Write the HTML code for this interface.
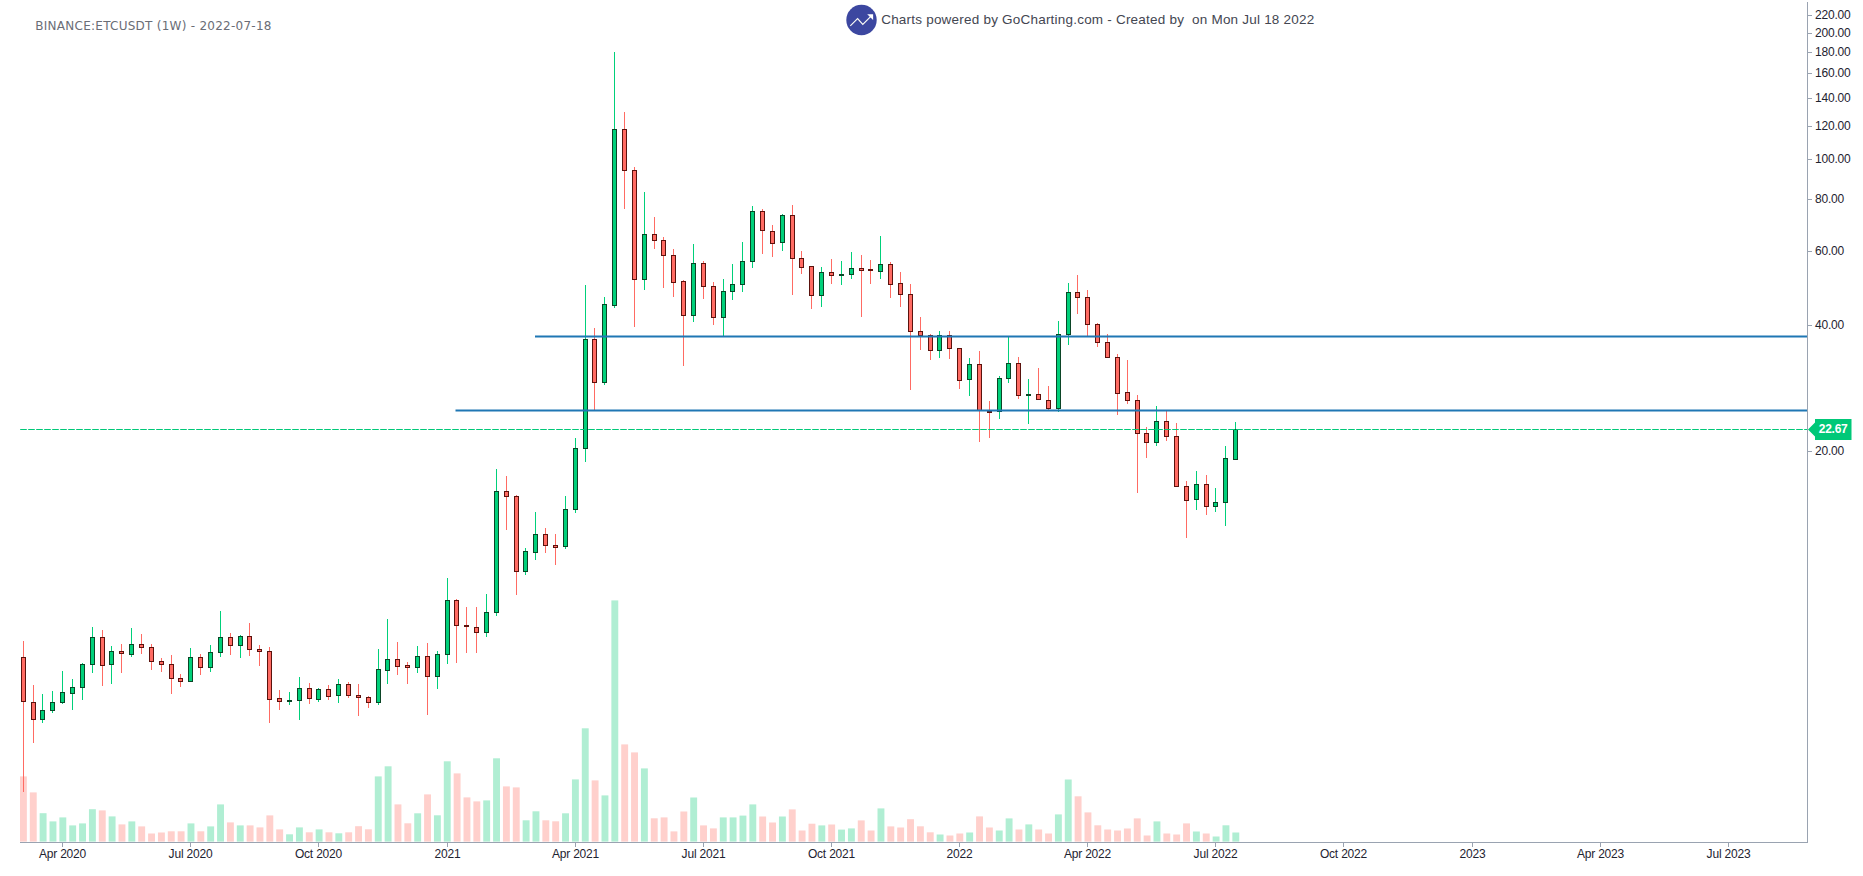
<!DOCTYPE html>
<html lang="en"><head><meta charset="utf-8"><title>BINANCE:ETCUSDT (1W) - 2022-07-18</title>
<style>
html,body{margin:0;padding:0;background:#fff;}
body{width:1863px;height:876px;overflow:hidden;position:relative;font-family:"Liberation Sans",sans-serif;}
#chart{position:absolute;left:0;top:0;width:1863px;height:876px;display:block;}
.t{font-family:"Liberation Sans",sans-serif;font-size:12px;fill:#1e2330;letter-spacing:-0.2px;}
.xl{text-anchor:middle;}
#title{position:absolute;left:35.3px;top:17.8px;font-family:"DejaVu Sans","Liberation Sans",sans-serif;font-size:12px;line-height:16px;color:#6a6d76;white-space:nowrap;letter-spacing:0.26px;}
#brand{position:absolute;left:881.2px;top:10.8px;letter-spacing:0.212px;font-family:"Liberation Sans",sans-serif;font-size:13.5px;line-height:18px;color:#434651;white-space:pre;}
#tag{position:absolute;left:1815.1px;top:419.3px;width:36px;height:21px;font-family:"Liberation Sans",sans-serif;font-weight:bold;font-size:12px;line-height:21px;color:#fff;text-align:center;letter-spacing:-0.25px;}
</style></head><body>
<svg id="chart" width="1863" height="876" viewBox="0 0 1863 876">
<g id="volume">
<rect x="20.00" y="776.4" width="6.85" height="65.2" fill="#ffd0cc"/>
<rect x="29.81" y="792.4" width="6.90" height="49.2" fill="#ffd0cc"/>
<rect x="39.66" y="813.2" width="6.90" height="28.4" fill="#b0eed3"/>
<rect x="49.52" y="821.4" width="6.90" height="20.2" fill="#b0eed3"/>
<rect x="59.38" y="817.4" width="6.90" height="24.2" fill="#b0eed3"/>
<rect x="69.23" y="825.4" width="6.90" height="16.2" fill="#b0eed3"/>
<rect x="79.09" y="823.4" width="6.90" height="18.2" fill="#b0eed3"/>
<rect x="88.95" y="809.2" width="6.90" height="32.4" fill="#b0eed3"/>
<rect x="98.81" y="810.4" width="6.90" height="31.2" fill="#ffd0cc"/>
<rect x="108.66" y="816.4" width="6.90" height="25.2" fill="#b0eed3"/>
<rect x="118.52" y="824.4" width="6.90" height="17.2" fill="#ffd0cc"/>
<rect x="128.38" y="821.4" width="6.90" height="20.2" fill="#b0eed3"/>
<rect x="138.23" y="826.4" width="6.90" height="15.2" fill="#ffd0cc"/>
<rect x="148.09" y="833.5" width="6.90" height="8.1" fill="#ffd0cc"/>
<rect x="157.95" y="832.5" width="6.90" height="9.1" fill="#ffd0cc"/>
<rect x="167.81" y="831.3" width="6.90" height="10.3" fill="#ffd0cc"/>
<rect x="177.66" y="831.3" width="6.90" height="10.3" fill="#ffd0cc"/>
<rect x="187.52" y="823.4" width="6.90" height="18.2" fill="#b0eed3"/>
<rect x="197.38" y="831.3" width="6.90" height="10.3" fill="#ffd0cc"/>
<rect x="207.23" y="826.4" width="6.90" height="15.2" fill="#b0eed3"/>
<rect x="217.09" y="804.4" width="6.90" height="37.2" fill="#b0eed3"/>
<rect x="226.95" y="822.4" width="6.90" height="19.2" fill="#ffd0cc"/>
<rect x="236.80" y="825.4" width="6.90" height="16.2" fill="#b0eed3"/>
<rect x="246.66" y="825.4" width="6.90" height="16.2" fill="#ffd0cc"/>
<rect x="256.52" y="827.4" width="6.90" height="14.2" fill="#ffd0cc"/>
<rect x="266.38" y="815.4" width="6.90" height="26.2" fill="#ffd0cc"/>
<rect x="276.23" y="829.4" width="6.90" height="12.2" fill="#ffd0cc"/>
<rect x="286.09" y="834.3" width="6.90" height="7.3" fill="#b0eed3"/>
<rect x="295.95" y="827.4" width="6.90" height="14.2" fill="#b0eed3"/>
<rect x="305.80" y="832.3" width="6.90" height="9.3" fill="#ffd0cc"/>
<rect x="315.66" y="829.4" width="6.90" height="12.2" fill="#b0eed3"/>
<rect x="325.52" y="832.3" width="6.90" height="9.3" fill="#ffd0cc"/>
<rect x="335.37" y="833.3" width="6.90" height="8.3" fill="#b0eed3"/>
<rect x="345.23" y="832.3" width="6.90" height="9.3" fill="#ffd0cc"/>
<rect x="355.09" y="826.2" width="6.90" height="15.4" fill="#ffd0cc"/>
<rect x="364.94" y="829.3" width="6.90" height="12.3" fill="#ffd0cc"/>
<rect x="374.80" y="776.4" width="6.90" height="65.2" fill="#b0eed3"/>
<rect x="384.66" y="766.3" width="6.90" height="75.3" fill="#b0eed3"/>
<rect x="394.52" y="804.4" width="6.90" height="37.2" fill="#ffd0cc"/>
<rect x="404.37" y="823.3" width="6.90" height="18.3" fill="#ffd0cc"/>
<rect x="414.23" y="813.3" width="6.90" height="28.3" fill="#b0eed3"/>
<rect x="424.09" y="794.4" width="6.90" height="47.2" fill="#ffd0cc"/>
<rect x="433.94" y="815.3" width="6.90" height="26.3" fill="#b0eed3"/>
<rect x="443.80" y="761.3" width="6.90" height="80.3" fill="#b0eed3"/>
<rect x="453.66" y="773.4" width="6.90" height="68.2" fill="#ffd0cc"/>
<rect x="463.51" y="797.4" width="6.90" height="44.2" fill="#ffd0cc"/>
<rect x="473.37" y="801.4" width="6.90" height="40.2" fill="#ffd0cc"/>
<rect x="483.23" y="800.4" width="6.90" height="41.2" fill="#b0eed3"/>
<rect x="493.09" y="758.3" width="6.90" height="83.3" fill="#b0eed3"/>
<rect x="502.94" y="786.4" width="6.90" height="55.2" fill="#ffd0cc"/>
<rect x="512.80" y="787.4" width="6.90" height="54.2" fill="#ffd0cc"/>
<rect x="522.66" y="820.3" width="6.90" height="21.3" fill="#b0eed3"/>
<rect x="532.51" y="811.3" width="6.90" height="30.3" fill="#b0eed3"/>
<rect x="542.37" y="820.3" width="6.90" height="21.3" fill="#ffd0cc"/>
<rect x="552.23" y="821.3" width="6.90" height="20.3" fill="#ffd0cc"/>
<rect x="562.08" y="813.3" width="6.90" height="28.3" fill="#b0eed3"/>
<rect x="571.94" y="779.4" width="6.90" height="62.2" fill="#b0eed3"/>
<rect x="581.80" y="728.3" width="6.90" height="113.3" fill="#b0eed3"/>
<rect x="591.66" y="780.4" width="6.90" height="61.2" fill="#ffd0cc"/>
<rect x="601.51" y="795.4" width="6.90" height="46.2" fill="#b0eed3"/>
<rect x="611.37" y="600.4" width="6.90" height="241.2" fill="#b0eed3"/>
<rect x="621.23" y="744.4" width="6.90" height="97.2" fill="#ffd0cc"/>
<rect x="631.08" y="752.4" width="6.90" height="89.2" fill="#ffd0cc"/>
<rect x="640.94" y="768.4" width="6.90" height="73.2" fill="#b0eed3"/>
<rect x="650.80" y="818.3" width="6.90" height="23.3" fill="#ffd0cc"/>
<rect x="660.65" y="817.4" width="6.90" height="24.2" fill="#ffd0cc"/>
<rect x="670.51" y="831.4" width="6.90" height="10.2" fill="#ffd0cc"/>
<rect x="680.37" y="811.5" width="6.90" height="30.1" fill="#ffd0cc"/>
<rect x="690.23" y="797.5" width="6.90" height="44.1" fill="#b0eed3"/>
<rect x="700.08" y="825.4" width="6.90" height="16.2" fill="#ffd0cc"/>
<rect x="709.94" y="828.4" width="6.90" height="13.2" fill="#ffd0cc"/>
<rect x="719.80" y="817.4" width="6.90" height="24.2" fill="#b0eed3"/>
<rect x="729.65" y="817.4" width="6.90" height="24.2" fill="#b0eed3"/>
<rect x="739.51" y="815.6" width="6.90" height="26.0" fill="#b0eed3"/>
<rect x="749.37" y="804.4" width="6.90" height="37.2" fill="#b0eed3"/>
<rect x="759.22" y="816.5" width="6.90" height="25.1" fill="#ffd0cc"/>
<rect x="769.08" y="822.5" width="6.90" height="19.1" fill="#ffd0cc"/>
<rect x="778.94" y="816.5" width="6.90" height="25.1" fill="#b0eed3"/>
<rect x="788.80" y="809.4" width="6.90" height="32.2" fill="#ffd0cc"/>
<rect x="798.65" y="830.5" width="6.90" height="11.1" fill="#ffd0cc"/>
<rect x="808.51" y="823.7" width="6.90" height="17.9" fill="#ffd0cc"/>
<rect x="818.37" y="825.4" width="6.90" height="16.2" fill="#b0eed3"/>
<rect x="828.22" y="824.5" width="6.90" height="17.1" fill="#ffd0cc"/>
<rect x="838.08" y="829.6" width="6.90" height="12.0" fill="#b0eed3"/>
<rect x="847.94" y="828.4" width="6.90" height="13.2" fill="#b0eed3"/>
<rect x="857.79" y="820.4" width="6.90" height="21.2" fill="#ffd0cc"/>
<rect x="867.65" y="830.5" width="6.90" height="11.1" fill="#ffd0cc"/>
<rect x="877.51" y="808.4" width="6.90" height="33.2" fill="#b0eed3"/>
<rect x="887.37" y="826.4" width="6.90" height="15.2" fill="#ffd0cc"/>
<rect x="897.22" y="827.5" width="6.90" height="14.1" fill="#ffd0cc"/>
<rect x="907.08" y="819.2" width="6.90" height="22.4" fill="#ffd0cc"/>
<rect x="916.94" y="826.3" width="6.90" height="15.3" fill="#ffd0cc"/>
<rect x="926.79" y="832.3" width="6.90" height="9.3" fill="#ffd0cc"/>
<rect x="936.65" y="834.5" width="6.90" height="7.1" fill="#b0eed3"/>
<rect x="946.51" y="835.5" width="6.90" height="6.1" fill="#ffd0cc"/>
<rect x="956.36" y="833.5" width="6.90" height="8.1" fill="#ffd0cc"/>
<rect x="966.22" y="832.5" width="6.90" height="9.1" fill="#b0eed3"/>
<rect x="976.08" y="816.4" width="6.90" height="25.2" fill="#ffd0cc"/>
<rect x="985.94" y="827.5" width="6.90" height="14.1" fill="#ffd0cc"/>
<rect x="995.79" y="830.5" width="6.90" height="11.1" fill="#b0eed3"/>
<rect x="1005.65" y="818.4" width="6.90" height="23.2" fill="#b0eed3"/>
<rect x="1015.51" y="829.5" width="6.90" height="12.1" fill="#ffd0cc"/>
<rect x="1025.36" y="824.4" width="6.90" height="17.2" fill="#b0eed3"/>
<rect x="1035.22" y="829.5" width="6.90" height="12.1" fill="#ffd0cc"/>
<rect x="1045.08" y="833.5" width="6.90" height="8.1" fill="#ffd0cc"/>
<rect x="1054.93" y="814.4" width="6.90" height="27.2" fill="#b0eed3"/>
<rect x="1064.79" y="779.5" width="6.90" height="62.1" fill="#b0eed3"/>
<rect x="1074.65" y="796.3" width="6.90" height="45.3" fill="#ffd0cc"/>
<rect x="1084.51" y="812.4" width="6.90" height="29.2" fill="#ffd0cc"/>
<rect x="1094.36" y="825.3" width="6.90" height="16.3" fill="#ffd0cc"/>
<rect x="1104.22" y="829.5" width="6.90" height="12.1" fill="#ffd0cc"/>
<rect x="1114.08" y="830.5" width="6.90" height="11.1" fill="#ffd0cc"/>
<rect x="1123.93" y="828.5" width="6.90" height="13.1" fill="#ffd0cc"/>
<rect x="1133.79" y="818.4" width="6.90" height="23.2" fill="#ffd0cc"/>
<rect x="1143.65" y="835.5" width="6.90" height="6.1" fill="#ffd0cc"/>
<rect x="1153.50" y="821.4" width="6.90" height="20.2" fill="#b0eed3"/>
<rect x="1163.36" y="833.5" width="6.90" height="8.1" fill="#ffd0cc"/>
<rect x="1173.22" y="834.5" width="6.90" height="7.1" fill="#ffd0cc"/>
<rect x="1183.08" y="823.4" width="6.90" height="18.2" fill="#ffd0cc"/>
<rect x="1192.93" y="831.5" width="6.90" height="10.1" fill="#b0eed3"/>
<rect x="1202.79" y="833.5" width="6.90" height="8.1" fill="#ffd0cc"/>
<rect x="1212.65" y="836.5" width="6.90" height="5.1" fill="#b0eed3"/>
<rect x="1222.50" y="825.3" width="6.90" height="16.3" fill="#b0eed3"/>
<rect x="1232.36" y="832.5" width="6.90" height="9.1" fill="#b0eed3"/>
</g>
<g id="candles" shape-rendering="crispEdges">
<rect x="23" y="641" width="1" height="16" fill="#ff6b63"/>
<rect x="23" y="702" width="1" height="90" fill="#ff6b63"/>
<rect x="21" y="657" width="5" height="45" fill="#5a120d"/>
<rect x="22" y="658" width="3" height="43" fill="#ff6b63"/>
<rect x="33" y="685" width="1" height="17" fill="#ff6b63"/>
<rect x="33" y="720" width="1" height="23" fill="#ff6b63"/>
<rect x="31" y="702" width="5" height="18" fill="#5a120d"/>
<rect x="32" y="703" width="3" height="16" fill="#ff6b63"/>
<rect x="42" y="694" width="1" height="16" fill="#00d07a"/>
<rect x="42" y="720" width="1" height="3" fill="#00d07a"/>
<rect x="40" y="710" width="5" height="10" fill="#0b4526"/>
<rect x="41" y="711" width="3" height="8" fill="#00d07a"/>
<rect x="52" y="691" width="1" height="11" fill="#00d07a"/>
<rect x="52" y="711" width="1" height="2" fill="#00d07a"/>
<rect x="50" y="702" width="5" height="9" fill="#0b4526"/>
<rect x="51" y="703" width="3" height="7" fill="#00d07a"/>
<rect x="62" y="671" width="1" height="21" fill="#00d07a"/>
<rect x="62" y="703" width="1" height="1" fill="#00d07a"/>
<rect x="60" y="692" width="5" height="11" fill="#0b4526"/>
<rect x="61" y="693" width="3" height="9" fill="#00d07a"/>
<rect x="72" y="679" width="1" height="8" fill="#00d07a"/>
<rect x="72" y="694" width="1" height="16" fill="#00d07a"/>
<rect x="70" y="687" width="5" height="7" fill="#0b4526"/>
<rect x="71" y="688" width="3" height="5" fill="#00d07a"/>
<rect x="82" y="663" width="1" height="1" fill="#00d07a"/>
<rect x="82" y="688" width="1" height="12" fill="#00d07a"/>
<rect x="80" y="664" width="5" height="24" fill="#0b4526"/>
<rect x="81" y="665" width="3" height="22" fill="#00d07a"/>
<rect x="92" y="627" width="1" height="10" fill="#00d07a"/>
<rect x="92" y="665" width="1" height="8" fill="#00d07a"/>
<rect x="90" y="637" width="5" height="28" fill="#0b4526"/>
<rect x="91" y="638" width="3" height="26" fill="#00d07a"/>
<rect x="102" y="630" width="1" height="7" fill="#ff6b63"/>
<rect x="102" y="666" width="1" height="20" fill="#ff6b63"/>
<rect x="100" y="637" width="5" height="29" fill="#5a120d"/>
<rect x="101" y="638" width="3" height="27" fill="#ff6b63"/>
<rect x="111" y="646" width="1" height="5" fill="#00d07a"/>
<rect x="111" y="665" width="1" height="19" fill="#00d07a"/>
<rect x="109" y="651" width="5" height="14" fill="#0b4526"/>
<rect x="110" y="652" width="3" height="12" fill="#00d07a"/>
<rect x="121" y="644" width="1" height="7" fill="#ff6b63"/>
<rect x="121" y="654" width="1" height="19" fill="#ff6b63"/>
<rect x="119" y="651" width="5" height="3" fill="#5a120d"/>
<rect x="120" y="652" width="3" height="1" fill="#ff6b63"/>
<rect x="131" y="628" width="1" height="16" fill="#00d07a"/>
<rect x="131" y="655" width="1" height="2" fill="#00d07a"/>
<rect x="129" y="644" width="5" height="11" fill="#0b4526"/>
<rect x="130" y="645" width="3" height="9" fill="#00d07a"/>
<rect x="141" y="634" width="1" height="10" fill="#ff6b63"/>
<rect x="141" y="648" width="1" height="6" fill="#ff6b63"/>
<rect x="139" y="644" width="5" height="4" fill="#5a120d"/>
<rect x="140" y="645" width="3" height="2" fill="#ff6b63"/>
<rect x="151" y="644" width="1" height="3" fill="#ff6b63"/>
<rect x="151" y="662" width="1" height="8" fill="#ff6b63"/>
<rect x="149" y="647" width="5" height="15" fill="#5a120d"/>
<rect x="150" y="648" width="3" height="13" fill="#ff6b63"/>
<rect x="161" y="658" width="1" height="3" fill="#ff6b63"/>
<rect x="161" y="665" width="1" height="7" fill="#ff6b63"/>
<rect x="159" y="661" width="5" height="4" fill="#5a120d"/>
<rect x="160" y="662" width="3" height="2" fill="#ff6b63"/>
<rect x="171" y="655" width="1" height="9" fill="#ff6b63"/>
<rect x="171" y="679" width="1" height="15" fill="#ff6b63"/>
<rect x="169" y="664" width="5" height="15" fill="#5a120d"/>
<rect x="170" y="665" width="3" height="13" fill="#ff6b63"/>
<rect x="180" y="674" width="1" height="4" fill="#ff6b63"/>
<rect x="180" y="682" width="1" height="5" fill="#ff6b63"/>
<rect x="178" y="678" width="5" height="4" fill="#5a120d"/>
<rect x="179" y="679" width="3" height="2" fill="#ff6b63"/>
<rect x="190" y="648" width="1" height="9" fill="#00d07a"/>
<rect x="188" y="657" width="5" height="25" fill="#0b4526"/>
<rect x="189" y="658" width="3" height="23" fill="#00d07a"/>
<rect x="200" y="654" width="1" height="3" fill="#ff6b63"/>
<rect x="200" y="668" width="1" height="7" fill="#ff6b63"/>
<rect x="198" y="657" width="5" height="11" fill="#5a120d"/>
<rect x="199" y="658" width="3" height="9" fill="#ff6b63"/>
<rect x="210" y="645" width="1" height="7" fill="#00d07a"/>
<rect x="210" y="668" width="1" height="4" fill="#00d07a"/>
<rect x="208" y="652" width="5" height="16" fill="#0b4526"/>
<rect x="209" y="653" width="3" height="14" fill="#00d07a"/>
<rect x="220" y="611" width="1" height="26" fill="#00d07a"/>
<rect x="220" y="653" width="1" height="4" fill="#00d07a"/>
<rect x="218" y="637" width="5" height="16" fill="#0b4526"/>
<rect x="219" y="638" width="3" height="14" fill="#00d07a"/>
<rect x="230" y="633" width="1" height="4" fill="#ff6b63"/>
<rect x="230" y="646" width="1" height="9" fill="#ff6b63"/>
<rect x="228" y="637" width="5" height="9" fill="#5a120d"/>
<rect x="229" y="638" width="3" height="7" fill="#ff6b63"/>
<rect x="240" y="635" width="1" height="1" fill="#00d07a"/>
<rect x="240" y="646" width="1" height="12" fill="#00d07a"/>
<rect x="238" y="636" width="5" height="10" fill="#0b4526"/>
<rect x="239" y="637" width="3" height="8" fill="#00d07a"/>
<rect x="249" y="623" width="1" height="13" fill="#ff6b63"/>
<rect x="249" y="650" width="1" height="6" fill="#ff6b63"/>
<rect x="247" y="636" width="5" height="14" fill="#5a120d"/>
<rect x="248" y="637" width="3" height="12" fill="#ff6b63"/>
<rect x="259" y="645" width="1" height="4" fill="#ff6b63"/>
<rect x="259" y="652" width="1" height="14" fill="#ff6b63"/>
<rect x="257" y="649" width="5" height="3" fill="#5a120d"/>
<rect x="258" y="650" width="3" height="1" fill="#ff6b63"/>
<rect x="269" y="647" width="1" height="4" fill="#ff6b63"/>
<rect x="269" y="700" width="1" height="23" fill="#ff6b63"/>
<rect x="267" y="651" width="5" height="49" fill="#5a120d"/>
<rect x="268" y="652" width="3" height="47" fill="#ff6b63"/>
<rect x="279" y="690" width="1" height="8" fill="#ff6b63"/>
<rect x="279" y="702" width="1" height="8" fill="#ff6b63"/>
<rect x="277" y="698" width="5" height="4" fill="#5a120d"/>
<rect x="278" y="699" width="3" height="2" fill="#ff6b63"/>
<rect x="289" y="692" width="1" height="8" fill="#00d07a"/>
<rect x="289" y="702" width="1" height="3" fill="#00d07a"/>
<rect x="287" y="700" width="5" height="2" fill="#0b4526"/>
<rect x="299" y="677" width="1" height="11" fill="#00d07a"/>
<rect x="299" y="701" width="1" height="19" fill="#00d07a"/>
<rect x="297" y="688" width="5" height="13" fill="#0b4526"/>
<rect x="298" y="689" width="3" height="11" fill="#00d07a"/>
<rect x="309" y="683" width="1" height="5" fill="#ff6b63"/>
<rect x="309" y="699" width="1" height="5" fill="#ff6b63"/>
<rect x="307" y="688" width="5" height="11" fill="#5a120d"/>
<rect x="308" y="689" width="3" height="9" fill="#ff6b63"/>
<rect x="318" y="688" width="1" height="1" fill="#00d07a"/>
<rect x="318" y="700" width="1" height="2" fill="#00d07a"/>
<rect x="316" y="689" width="5" height="11" fill="#0b4526"/>
<rect x="317" y="690" width="3" height="9" fill="#00d07a"/>
<rect x="328" y="685" width="1" height="4" fill="#ff6b63"/>
<rect x="328" y="697" width="1" height="3" fill="#ff6b63"/>
<rect x="326" y="689" width="5" height="8" fill="#5a120d"/>
<rect x="327" y="690" width="3" height="6" fill="#ff6b63"/>
<rect x="338" y="679" width="1" height="5" fill="#00d07a"/>
<rect x="338" y="696" width="1" height="7" fill="#00d07a"/>
<rect x="336" y="684" width="5" height="12" fill="#0b4526"/>
<rect x="337" y="685" width="3" height="10" fill="#00d07a"/>
<rect x="348" y="682" width="1" height="2" fill="#ff6b63"/>
<rect x="348" y="696" width="1" height="2" fill="#ff6b63"/>
<rect x="346" y="684" width="5" height="12" fill="#5a120d"/>
<rect x="347" y="685" width="3" height="10" fill="#ff6b63"/>
<rect x="358" y="684" width="1" height="11" fill="#ff6b63"/>
<rect x="358" y="698" width="1" height="18" fill="#ff6b63"/>
<rect x="356" y="695" width="5" height="3" fill="#5a120d"/>
<rect x="357" y="696" width="3" height="1" fill="#ff6b63"/>
<rect x="368" y="696" width="1" height="1" fill="#ff6b63"/>
<rect x="368" y="703" width="1" height="5" fill="#ff6b63"/>
<rect x="366" y="697" width="5" height="6" fill="#5a120d"/>
<rect x="367" y="698" width="3" height="4" fill="#ff6b63"/>
<rect x="378" y="649" width="1" height="20" fill="#00d07a"/>
<rect x="378" y="703" width="1" height="2" fill="#00d07a"/>
<rect x="376" y="669" width="5" height="34" fill="#0b4526"/>
<rect x="377" y="670" width="3" height="32" fill="#00d07a"/>
<rect x="387" y="619" width="1" height="40" fill="#00d07a"/>
<rect x="387" y="671" width="1" height="13" fill="#00d07a"/>
<rect x="385" y="659" width="5" height="12" fill="#0b4526"/>
<rect x="386" y="660" width="3" height="10" fill="#00d07a"/>
<rect x="397" y="642" width="1" height="17" fill="#ff6b63"/>
<rect x="397" y="667" width="1" height="8" fill="#ff6b63"/>
<rect x="395" y="659" width="5" height="8" fill="#5a120d"/>
<rect x="396" y="660" width="3" height="6" fill="#ff6b63"/>
<rect x="407" y="662" width="1" height="3" fill="#ff6b63"/>
<rect x="407" y="668" width="1" height="16" fill="#ff6b63"/>
<rect x="405" y="665" width="5" height="3" fill="#5a120d"/>
<rect x="406" y="666" width="3" height="1" fill="#ff6b63"/>
<rect x="417" y="646" width="1" height="10" fill="#00d07a"/>
<rect x="417" y="668" width="1" height="5" fill="#00d07a"/>
<rect x="415" y="656" width="5" height="12" fill="#0b4526"/>
<rect x="416" y="657" width="3" height="10" fill="#00d07a"/>
<rect x="427" y="643" width="1" height="13" fill="#ff6b63"/>
<rect x="427" y="677" width="1" height="38" fill="#ff6b63"/>
<rect x="425" y="656" width="5" height="21" fill="#5a120d"/>
<rect x="426" y="657" width="3" height="19" fill="#ff6b63"/>
<rect x="437" y="651" width="1" height="3" fill="#00d07a"/>
<rect x="437" y="677" width="1" height="12" fill="#00d07a"/>
<rect x="435" y="654" width="5" height="23" fill="#0b4526"/>
<rect x="436" y="655" width="3" height="21" fill="#00d07a"/>
<rect x="447" y="578" width="1" height="22" fill="#00d07a"/>
<rect x="447" y="655" width="1" height="9" fill="#00d07a"/>
<rect x="445" y="600" width="5" height="55" fill="#0b4526"/>
<rect x="446" y="601" width="3" height="53" fill="#00d07a"/>
<rect x="456" y="599" width="1" height="1" fill="#ff6b63"/>
<rect x="456" y="626" width="1" height="37" fill="#ff6b63"/>
<rect x="454" y="600" width="5" height="26" fill="#5a120d"/>
<rect x="455" y="601" width="3" height="24" fill="#ff6b63"/>
<rect x="466" y="607" width="1" height="18" fill="#ff6b63"/>
<rect x="466" y="627" width="1" height="26" fill="#ff6b63"/>
<rect x="464" y="625" width="5" height="2" fill="#5a120d"/>
<rect x="476" y="607" width="1" height="20" fill="#ff6b63"/>
<rect x="476" y="633" width="1" height="20" fill="#ff6b63"/>
<rect x="474" y="627" width="5" height="6" fill="#5a120d"/>
<rect x="475" y="628" width="3" height="4" fill="#ff6b63"/>
<rect x="486" y="594" width="1" height="18" fill="#00d07a"/>
<rect x="486" y="633" width="1" height="4" fill="#00d07a"/>
<rect x="484" y="612" width="5" height="21" fill="#0b4526"/>
<rect x="485" y="613" width="3" height="19" fill="#00d07a"/>
<rect x="496" y="469" width="1" height="22" fill="#00d07a"/>
<rect x="496" y="613" width="1" height="3" fill="#00d07a"/>
<rect x="494" y="491" width="5" height="122" fill="#0b4526"/>
<rect x="495" y="492" width="3" height="120" fill="#00d07a"/>
<rect x="506" y="476" width="1" height="15" fill="#ff6b63"/>
<rect x="506" y="497" width="1" height="33" fill="#ff6b63"/>
<rect x="504" y="491" width="5" height="6" fill="#5a120d"/>
<rect x="505" y="492" width="3" height="4" fill="#ff6b63"/>
<rect x="516" y="495" width="1" height="1" fill="#ff6b63"/>
<rect x="516" y="572" width="1" height="23" fill="#ff6b63"/>
<rect x="514" y="496" width="5" height="76" fill="#5a120d"/>
<rect x="515" y="497" width="3" height="74" fill="#ff6b63"/>
<rect x="525" y="548" width="1" height="3" fill="#00d07a"/>
<rect x="525" y="572" width="1" height="3" fill="#00d07a"/>
<rect x="523" y="551" width="5" height="21" fill="#0b4526"/>
<rect x="524" y="552" width="3" height="19" fill="#00d07a"/>
<rect x="535" y="512" width="1" height="22" fill="#00d07a"/>
<rect x="535" y="553" width="1" height="7" fill="#00d07a"/>
<rect x="533" y="534" width="5" height="19" fill="#0b4526"/>
<rect x="534" y="535" width="3" height="17" fill="#00d07a"/>
<rect x="545" y="528" width="1" height="6" fill="#ff6b63"/>
<rect x="545" y="546" width="1" height="7" fill="#ff6b63"/>
<rect x="543" y="534" width="5" height="12" fill="#5a120d"/>
<rect x="544" y="535" width="3" height="10" fill="#ff6b63"/>
<rect x="555" y="534" width="1" height="11" fill="#ff6b63"/>
<rect x="555" y="548" width="1" height="17" fill="#ff6b63"/>
<rect x="553" y="545" width="5" height="3" fill="#5a120d"/>
<rect x="554" y="546" width="3" height="1" fill="#ff6b63"/>
<rect x="565" y="496" width="1" height="13" fill="#00d07a"/>
<rect x="565" y="547" width="1" height="2" fill="#00d07a"/>
<rect x="563" y="509" width="5" height="38" fill="#0b4526"/>
<rect x="564" y="510" width="3" height="36" fill="#00d07a"/>
<rect x="575" y="438" width="1" height="10" fill="#00d07a"/>
<rect x="575" y="510" width="1" height="3" fill="#00d07a"/>
<rect x="573" y="448" width="5" height="62" fill="#0b4526"/>
<rect x="574" y="449" width="3" height="60" fill="#00d07a"/>
<rect x="585" y="285" width="1" height="54" fill="#00d07a"/>
<rect x="585" y="449" width="1" height="13" fill="#00d07a"/>
<rect x="583" y="339" width="5" height="110" fill="#0b4526"/>
<rect x="584" y="340" width="3" height="108" fill="#00d07a"/>
<rect x="594" y="328" width="1" height="11" fill="#ff6b63"/>
<rect x="594" y="383" width="1" height="27" fill="#ff6b63"/>
<rect x="592" y="339" width="5" height="44" fill="#5a120d"/>
<rect x="593" y="340" width="3" height="42" fill="#ff6b63"/>
<rect x="604" y="297" width="1" height="7" fill="#00d07a"/>
<rect x="604" y="383" width="1" height="2" fill="#00d07a"/>
<rect x="602" y="304" width="5" height="79" fill="#0b4526"/>
<rect x="603" y="305" width="3" height="77" fill="#00d07a"/>
<rect x="614" y="52" width="1" height="77" fill="#00d07a"/>
<rect x="614" y="306" width="1" height="2" fill="#00d07a"/>
<rect x="612" y="129" width="5" height="177" fill="#0b4526"/>
<rect x="613" y="130" width="3" height="175" fill="#00d07a"/>
<rect x="624" y="112" width="1" height="17" fill="#ff6b63"/>
<rect x="624" y="171" width="1" height="38" fill="#ff6b63"/>
<rect x="622" y="129" width="5" height="42" fill="#5a120d"/>
<rect x="623" y="130" width="3" height="40" fill="#ff6b63"/>
<rect x="634" y="167" width="1" height="3" fill="#ff6b63"/>
<rect x="634" y="280" width="1" height="47" fill="#ff6b63"/>
<rect x="632" y="170" width="5" height="110" fill="#5a120d"/>
<rect x="633" y="171" width="3" height="108" fill="#ff6b63"/>
<rect x="644" y="192" width="1" height="42" fill="#00d07a"/>
<rect x="644" y="280" width="1" height="10" fill="#00d07a"/>
<rect x="642" y="234" width="5" height="46" fill="#0b4526"/>
<rect x="643" y="235" width="3" height="44" fill="#00d07a"/>
<rect x="654" y="217" width="1" height="17" fill="#ff6b63"/>
<rect x="654" y="241" width="1" height="8" fill="#ff6b63"/>
<rect x="652" y="234" width="5" height="7" fill="#5a120d"/>
<rect x="653" y="235" width="3" height="5" fill="#ff6b63"/>
<rect x="663" y="237" width="1" height="3" fill="#ff6b63"/>
<rect x="663" y="256" width="1" height="32" fill="#ff6b63"/>
<rect x="661" y="240" width="5" height="16" fill="#5a120d"/>
<rect x="662" y="241" width="3" height="14" fill="#ff6b63"/>
<rect x="673" y="249" width="1" height="6" fill="#ff6b63"/>
<rect x="673" y="283" width="1" height="14" fill="#ff6b63"/>
<rect x="671" y="255" width="5" height="28" fill="#5a120d"/>
<rect x="672" y="256" width="3" height="26" fill="#ff6b63"/>
<rect x="683" y="280" width="1" height="1" fill="#ff6b63"/>
<rect x="683" y="316" width="1" height="50" fill="#ff6b63"/>
<rect x="681" y="281" width="5" height="35" fill="#5a120d"/>
<rect x="682" y="282" width="3" height="33" fill="#ff6b63"/>
<rect x="693" y="244" width="1" height="19" fill="#00d07a"/>
<rect x="693" y="316" width="1" height="6" fill="#00d07a"/>
<rect x="691" y="263" width="5" height="53" fill="#0b4526"/>
<rect x="692" y="264" width="3" height="51" fill="#00d07a"/>
<rect x="703" y="261" width="1" height="2" fill="#ff6b63"/>
<rect x="703" y="287" width="1" height="12" fill="#ff6b63"/>
<rect x="701" y="263" width="5" height="24" fill="#5a120d"/>
<rect x="702" y="264" width="3" height="22" fill="#ff6b63"/>
<rect x="713" y="282" width="1" height="4" fill="#ff6b63"/>
<rect x="713" y="318" width="1" height="7" fill="#ff6b63"/>
<rect x="711" y="286" width="5" height="32" fill="#5a120d"/>
<rect x="712" y="287" width="3" height="30" fill="#ff6b63"/>
<rect x="723" y="279" width="1" height="12" fill="#00d07a"/>
<rect x="723" y="318" width="1" height="18" fill="#00d07a"/>
<rect x="721" y="291" width="5" height="27" fill="#0b4526"/>
<rect x="722" y="292" width="3" height="25" fill="#00d07a"/>
<rect x="732" y="264" width="1" height="20" fill="#00d07a"/>
<rect x="732" y="292" width="1" height="8" fill="#00d07a"/>
<rect x="730" y="284" width="5" height="8" fill="#0b4526"/>
<rect x="731" y="285" width="3" height="6" fill="#00d07a"/>
<rect x="742" y="242" width="1" height="19" fill="#00d07a"/>
<rect x="742" y="285" width="1" height="7" fill="#00d07a"/>
<rect x="740" y="261" width="5" height="24" fill="#0b4526"/>
<rect x="741" y="262" width="3" height="22" fill="#00d07a"/>
<rect x="752" y="206" width="1" height="5" fill="#00d07a"/>
<rect x="752" y="262" width="1" height="6" fill="#00d07a"/>
<rect x="750" y="211" width="5" height="51" fill="#0b4526"/>
<rect x="751" y="212" width="3" height="49" fill="#00d07a"/>
<rect x="762" y="209" width="1" height="2" fill="#ff6b63"/>
<rect x="762" y="231" width="1" height="23" fill="#ff6b63"/>
<rect x="760" y="211" width="5" height="20" fill="#5a120d"/>
<rect x="761" y="212" width="3" height="18" fill="#ff6b63"/>
<rect x="772" y="225" width="1" height="6" fill="#ff6b63"/>
<rect x="772" y="244" width="1" height="13" fill="#ff6b63"/>
<rect x="770" y="231" width="5" height="13" fill="#5a120d"/>
<rect x="771" y="232" width="3" height="11" fill="#ff6b63"/>
<rect x="782" y="214" width="1" height="1" fill="#00d07a"/>
<rect x="782" y="243" width="1" height="8" fill="#00d07a"/>
<rect x="780" y="215" width="5" height="28" fill="#0b4526"/>
<rect x="781" y="216" width="3" height="26" fill="#00d07a"/>
<rect x="792" y="205" width="1" height="10" fill="#ff6b63"/>
<rect x="792" y="259" width="1" height="36" fill="#ff6b63"/>
<rect x="790" y="215" width="5" height="44" fill="#5a120d"/>
<rect x="791" y="216" width="3" height="42" fill="#ff6b63"/>
<rect x="801" y="251" width="1" height="7" fill="#ff6b63"/>
<rect x="801" y="268" width="1" height="6" fill="#ff6b63"/>
<rect x="799" y="258" width="5" height="10" fill="#5a120d"/>
<rect x="800" y="259" width="3" height="8" fill="#ff6b63"/>
<rect x="811" y="296" width="1" height="13" fill="#ff6b63"/>
<rect x="809" y="266" width="5" height="30" fill="#5a120d"/>
<rect x="810" y="267" width="3" height="28" fill="#ff6b63"/>
<rect x="821" y="267" width="1" height="5" fill="#00d07a"/>
<rect x="821" y="296" width="1" height="11" fill="#00d07a"/>
<rect x="819" y="272" width="5" height="24" fill="#0b4526"/>
<rect x="820" y="273" width="3" height="22" fill="#00d07a"/>
<rect x="831" y="259" width="1" height="13" fill="#ff6b63"/>
<rect x="831" y="276" width="1" height="8" fill="#ff6b63"/>
<rect x="829" y="272" width="5" height="4" fill="#5a120d"/>
<rect x="830" y="273" width="3" height="2" fill="#ff6b63"/>
<rect x="841" y="261" width="1" height="13" fill="#00d07a"/>
<rect x="841" y="276" width="1" height="9" fill="#00d07a"/>
<rect x="839" y="274" width="5" height="2" fill="#0b4526"/>
<rect x="851" y="252" width="1" height="16" fill="#00d07a"/>
<rect x="851" y="275" width="1" height="4" fill="#00d07a"/>
<rect x="849" y="268" width="5" height="7" fill="#0b4526"/>
<rect x="850" y="269" width="3" height="5" fill="#00d07a"/>
<rect x="861" y="255" width="1" height="13" fill="#ff6b63"/>
<rect x="861" y="271" width="1" height="46" fill="#ff6b63"/>
<rect x="859" y="268" width="5" height="3" fill="#5a120d"/>
<rect x="860" y="269" width="3" height="1" fill="#ff6b63"/>
<rect x="870" y="260" width="1" height="9" fill="#ff6b63"/>
<rect x="870" y="271" width="1" height="13" fill="#ff6b63"/>
<rect x="868" y="269" width="5" height="2" fill="#5a120d"/>
<rect x="880" y="236" width="1" height="28" fill="#00d07a"/>
<rect x="880" y="272" width="1" height="7" fill="#00d07a"/>
<rect x="878" y="264" width="5" height="8" fill="#0b4526"/>
<rect x="879" y="265" width="3" height="6" fill="#00d07a"/>
<rect x="890" y="262" width="1" height="2" fill="#ff6b63"/>
<rect x="890" y="285" width="1" height="13" fill="#ff6b63"/>
<rect x="888" y="264" width="5" height="21" fill="#5a120d"/>
<rect x="889" y="265" width="3" height="19" fill="#ff6b63"/>
<rect x="900" y="272" width="1" height="11" fill="#ff6b63"/>
<rect x="900" y="295" width="1" height="12" fill="#ff6b63"/>
<rect x="898" y="283" width="5" height="12" fill="#5a120d"/>
<rect x="899" y="284" width="3" height="10" fill="#ff6b63"/>
<rect x="910" y="284" width="1" height="10" fill="#ff6b63"/>
<rect x="910" y="332" width="1" height="58" fill="#ff6b63"/>
<rect x="908" y="294" width="5" height="38" fill="#5a120d"/>
<rect x="909" y="295" width="3" height="36" fill="#ff6b63"/>
<rect x="920" y="317" width="1" height="14" fill="#ff6b63"/>
<rect x="920" y="336" width="1" height="14" fill="#ff6b63"/>
<rect x="918" y="331" width="5" height="5" fill="#5a120d"/>
<rect x="919" y="332" width="3" height="3" fill="#ff6b63"/>
<rect x="930" y="334" width="1" height="1" fill="#ff6b63"/>
<rect x="930" y="351" width="1" height="9" fill="#ff6b63"/>
<rect x="928" y="335" width="5" height="16" fill="#5a120d"/>
<rect x="929" y="336" width="3" height="14" fill="#ff6b63"/>
<rect x="939" y="331" width="1" height="4" fill="#00d07a"/>
<rect x="939" y="351" width="1" height="7" fill="#00d07a"/>
<rect x="937" y="335" width="5" height="16" fill="#0b4526"/>
<rect x="938" y="336" width="3" height="14" fill="#00d07a"/>
<rect x="949" y="331" width="1" height="4" fill="#ff6b63"/>
<rect x="949" y="349" width="1" height="10" fill="#ff6b63"/>
<rect x="947" y="335" width="5" height="14" fill="#5a120d"/>
<rect x="948" y="336" width="3" height="12" fill="#ff6b63"/>
<rect x="959" y="381" width="1" height="8" fill="#ff6b63"/>
<rect x="957" y="348" width="5" height="33" fill="#5a120d"/>
<rect x="958" y="349" width="3" height="31" fill="#ff6b63"/>
<rect x="969" y="358" width="1" height="6" fill="#00d07a"/>
<rect x="969" y="380" width="1" height="16" fill="#00d07a"/>
<rect x="967" y="364" width="5" height="16" fill="#0b4526"/>
<rect x="968" y="365" width="3" height="14" fill="#00d07a"/>
<rect x="979" y="351" width="1" height="13" fill="#ff6b63"/>
<rect x="979" y="411" width="1" height="31" fill="#ff6b63"/>
<rect x="977" y="364" width="5" height="47" fill="#5a120d"/>
<rect x="978" y="365" width="3" height="45" fill="#ff6b63"/>
<rect x="989" y="401" width="1" height="10" fill="#ff6b63"/>
<rect x="989" y="413" width="1" height="25" fill="#ff6b63"/>
<rect x="987" y="411" width="5" height="2" fill="#5a120d"/>
<rect x="999" y="376" width="1" height="2" fill="#00d07a"/>
<rect x="999" y="412" width="1" height="7" fill="#00d07a"/>
<rect x="997" y="378" width="5" height="34" fill="#0b4526"/>
<rect x="998" y="379" width="3" height="32" fill="#00d07a"/>
<rect x="1008" y="337" width="1" height="26" fill="#00d07a"/>
<rect x="1008" y="379" width="1" height="4" fill="#00d07a"/>
<rect x="1006" y="363" width="5" height="16" fill="#0b4526"/>
<rect x="1007" y="364" width="3" height="14" fill="#00d07a"/>
<rect x="1018" y="357" width="1" height="6" fill="#ff6b63"/>
<rect x="1018" y="396" width="1" height="3" fill="#ff6b63"/>
<rect x="1016" y="363" width="5" height="33" fill="#5a120d"/>
<rect x="1017" y="364" width="3" height="31" fill="#ff6b63"/>
<rect x="1028" y="379" width="1" height="15" fill="#00d07a"/>
<rect x="1028" y="396" width="1" height="28" fill="#00d07a"/>
<rect x="1026" y="394" width="5" height="2" fill="#0b4526"/>
<rect x="1038" y="368" width="1" height="26" fill="#ff6b63"/>
<rect x="1036" y="394" width="5" height="6" fill="#5a120d"/>
<rect x="1037" y="395" width="3" height="4" fill="#ff6b63"/>
<rect x="1048" y="386" width="1" height="14" fill="#ff6b63"/>
<rect x="1048" y="409" width="1" height="1" fill="#ff6b63"/>
<rect x="1046" y="400" width="5" height="9" fill="#5a120d"/>
<rect x="1047" y="401" width="3" height="7" fill="#ff6b63"/>
<rect x="1058" y="321" width="1" height="13" fill="#00d07a"/>
<rect x="1058" y="409" width="1" height="3" fill="#00d07a"/>
<rect x="1056" y="334" width="5" height="75" fill="#0b4526"/>
<rect x="1057" y="335" width="3" height="73" fill="#00d07a"/>
<rect x="1068" y="283" width="1" height="9" fill="#00d07a"/>
<rect x="1068" y="335" width="1" height="10" fill="#00d07a"/>
<rect x="1066" y="292" width="5" height="43" fill="#0b4526"/>
<rect x="1067" y="293" width="3" height="41" fill="#00d07a"/>
<rect x="1077" y="275" width="1" height="17" fill="#ff6b63"/>
<rect x="1077" y="298" width="1" height="16" fill="#ff6b63"/>
<rect x="1075" y="292" width="5" height="6" fill="#5a120d"/>
<rect x="1076" y="293" width="3" height="4" fill="#ff6b63"/>
<rect x="1087" y="290" width="1" height="7" fill="#ff6b63"/>
<rect x="1087" y="325" width="1" height="11" fill="#ff6b63"/>
<rect x="1085" y="297" width="5" height="28" fill="#5a120d"/>
<rect x="1086" y="298" width="3" height="26" fill="#ff6b63"/>
<rect x="1097" y="323" width="1" height="1" fill="#ff6b63"/>
<rect x="1097" y="343" width="1" height="4" fill="#ff6b63"/>
<rect x="1095" y="324" width="5" height="19" fill="#5a120d"/>
<rect x="1096" y="325" width="3" height="17" fill="#ff6b63"/>
<rect x="1107" y="334" width="1" height="8" fill="#ff6b63"/>
<rect x="1105" y="342" width="5" height="16" fill="#5a120d"/>
<rect x="1106" y="343" width="3" height="14" fill="#ff6b63"/>
<rect x="1117" y="354" width="1" height="3" fill="#ff6b63"/>
<rect x="1117" y="394" width="1" height="21" fill="#ff6b63"/>
<rect x="1115" y="357" width="5" height="37" fill="#5a120d"/>
<rect x="1116" y="358" width="3" height="35" fill="#ff6b63"/>
<rect x="1127" y="360" width="1" height="32" fill="#ff6b63"/>
<rect x="1127" y="401" width="1" height="3" fill="#ff6b63"/>
<rect x="1125" y="392" width="5" height="9" fill="#5a120d"/>
<rect x="1126" y="393" width="3" height="7" fill="#ff6b63"/>
<rect x="1137" y="395" width="1" height="5" fill="#ff6b63"/>
<rect x="1137" y="434" width="1" height="59" fill="#ff6b63"/>
<rect x="1135" y="400" width="5" height="34" fill="#5a120d"/>
<rect x="1136" y="401" width="3" height="32" fill="#ff6b63"/>
<rect x="1146" y="427" width="1" height="6" fill="#ff6b63"/>
<rect x="1146" y="443" width="1" height="15" fill="#ff6b63"/>
<rect x="1144" y="433" width="5" height="10" fill="#5a120d"/>
<rect x="1145" y="434" width="3" height="8" fill="#ff6b63"/>
<rect x="1156" y="406" width="1" height="15" fill="#00d07a"/>
<rect x="1156" y="443" width="1" height="3" fill="#00d07a"/>
<rect x="1154" y="421" width="5" height="22" fill="#0b4526"/>
<rect x="1155" y="422" width="3" height="20" fill="#00d07a"/>
<rect x="1166" y="411" width="1" height="10" fill="#ff6b63"/>
<rect x="1166" y="437" width="1" height="4" fill="#ff6b63"/>
<rect x="1164" y="421" width="5" height="16" fill="#5a120d"/>
<rect x="1165" y="422" width="3" height="14" fill="#ff6b63"/>
<rect x="1176" y="423" width="1" height="13" fill="#ff6b63"/>
<rect x="1174" y="436" width="5" height="51" fill="#5a120d"/>
<rect x="1175" y="437" width="3" height="49" fill="#ff6b63"/>
<rect x="1186" y="481" width="1" height="5" fill="#ff6b63"/>
<rect x="1186" y="501" width="1" height="37" fill="#ff6b63"/>
<rect x="1184" y="486" width="5" height="15" fill="#5a120d"/>
<rect x="1185" y="487" width="3" height="13" fill="#ff6b63"/>
<rect x="1196" y="471" width="1" height="13" fill="#00d07a"/>
<rect x="1196" y="500" width="1" height="10" fill="#00d07a"/>
<rect x="1194" y="484" width="5" height="16" fill="#0b4526"/>
<rect x="1195" y="485" width="3" height="14" fill="#00d07a"/>
<rect x="1206" y="475" width="1" height="9" fill="#ff6b63"/>
<rect x="1206" y="507" width="1" height="8" fill="#ff6b63"/>
<rect x="1204" y="484" width="5" height="23" fill="#5a120d"/>
<rect x="1205" y="485" width="3" height="21" fill="#ff6b63"/>
<rect x="1215" y="488" width="1" height="14" fill="#00d07a"/>
<rect x="1215" y="507" width="1" height="5" fill="#00d07a"/>
<rect x="1213" y="502" width="5" height="5" fill="#0b4526"/>
<rect x="1214" y="503" width="3" height="3" fill="#00d07a"/>
<rect x="1225" y="446" width="1" height="12" fill="#00d07a"/>
<rect x="1225" y="503" width="1" height="23" fill="#00d07a"/>
<rect x="1223" y="458" width="5" height="45" fill="#0b4526"/>
<rect x="1224" y="459" width="3" height="43" fill="#00d07a"/>
<rect x="1235" y="422" width="1" height="7" fill="#00d07a"/>
<rect x="1233" y="429" width="5" height="31" fill="#0b4526"/>
<rect x="1234" y="430" width="3" height="29" fill="#00d07a"/>
</g>
<g id="levels">
<line x1="535" y1="336.5" x2="1807" y2="336.5" stroke="#1f77b4" stroke-width="2"/>
<line x1="455.5" y1="410.5" x2="1807" y2="410.5" stroke="#1f77b4" stroke-width="2"/>
<line x1="20.2" y1="429.5" x2="1808" y2="429.5" stroke="#00c878" stroke-width="1" stroke-dasharray="6.6 1.4"/>
</g>
<g id="axes" shape-rendering="crispEdges" fill="#9aa3b1">
<rect x="20" y="842" width="1788" height="1"/>
<rect x="1807" y="2" width="1" height="841"/>
<rect x="1808" y="15" width="4" height="1"/>
<rect x="1808" y="33" width="4" height="1"/>
<rect x="1808" y="52" width="4" height="1"/>
<rect x="1808" y="73" width="4" height="1"/>
<rect x="1808" y="98" width="4" height="1"/>
<rect x="1808" y="126" width="4" height="1"/>
<rect x="1808" y="159" width="4" height="1"/>
<rect x="1808" y="199" width="4" height="1"/>
<rect x="1808" y="251" width="4" height="1"/>
<rect x="1808" y="325" width="4" height="1"/>
<rect x="1808" y="451" width="4" height="1"/>
<rect x="62" y="843" width="1" height="4"/>
<rect x="190" y="843" width="1" height="4"/>
<rect x="318" y="843" width="1" height="4"/>
<rect x="447" y="843" width="1" height="4"/>
<rect x="575" y="843" width="1" height="4"/>
<rect x="703" y="843" width="1" height="4"/>
<rect x="831" y="843" width="1" height="4"/>
<rect x="959" y="843" width="1" height="4"/>
<rect x="1087" y="843" width="1" height="4"/>
<rect x="1215" y="843" width="1" height="4"/>
<rect x="1343" y="843" width="1" height="4"/>
<rect x="1472" y="843" width="1" height="4"/>
<rect x="1600" y="843" width="1" height="4"/>
<rect x="1728" y="843" width="1" height="4"/>
</g>
<g id="ylabels">
<text class="t" x="1815" y="19.1">220.00</text>
<text class="t" x="1815" y="37.1">200.00</text>
<text class="t" x="1815" y="56.1">180.00</text>
<text class="t" x="1815" y="77.1">160.00</text>
<text class="t" x="1815" y="102.1">140.00</text>
<text class="t" x="1815" y="130.1">120.00</text>
<text class="t" x="1815" y="163.1">100.00</text>
<text class="t" x="1815" y="203.1">80.00</text>
<text class="t" x="1815" y="255.1">60.00</text>
<text class="t" x="1815" y="329.1">40.00</text>
<text class="t" x="1815" y="455.1">20.00</text>
</g>
<g id="xlabels">
<text class="t xl" x="62.5" y="858.2">Apr 2020</text>
<text class="t xl" x="190.5" y="858.2">Jul 2020</text>
<text class="t xl" x="318.5" y="858.2">Oct 2020</text>
<text class="t xl" x="447.5" y="858.2">2021</text>
<text class="t xl" x="575.5" y="858.2">Apr 2021</text>
<text class="t xl" x="703.5" y="858.2">Jul 2021</text>
<text class="t xl" x="831.5" y="858.2">Oct 2021</text>
<text class="t xl" x="959.5" y="858.2">2022</text>
<text class="t xl" x="1087.5" y="858.2">Apr 2022</text>
<text class="t xl" x="1215.5" y="858.2">Jul 2022</text>
<text class="t xl" x="1343.5" y="858.2">Oct 2022</text>
<text class="t xl" x="1472.5" y="858.2">2023</text>
<text class="t xl" x="1600.5" y="858.2">Apr 2023</text>
<text class="t xl" x="1728.5" y="858.2">Jul 2023</text>
</g>
<polygon points="1808,429.5 1815,422.4 1815,419 1851.5,419 1851.5,440 1815,440 1815,436.6" fill="#00c878"/>
<g id="logo"><circle cx="861.5" cy="20" r="15.2" fill="#3c47a0"/>
<polyline points="850.3,25.8 857.6,18.7 862.8,24.4 871.6,15.6" fill="none" stroke="#fdfdf6" stroke-width="1.15" stroke-linejoin="miter"/>
<polygon points="867.2,14.2 873.1,14.2 873.1,19.9" fill="#fff"/></g>
</svg>
<div id="title">BINANCE:ETCUSDT (1W) - 2022-07-18</div>
<div id="brand">Charts powered by GoCharting.com - Created by  on Mon Jul 18 2022</div>
<div id="tag">22.67</div>
</body></html>
